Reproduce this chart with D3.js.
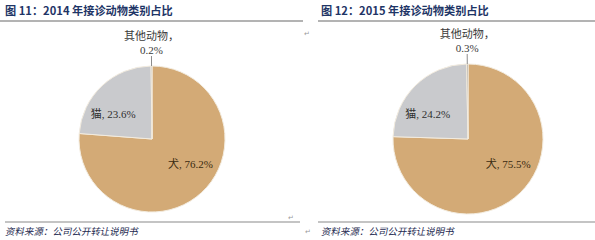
<!DOCTYPE html>
<html>
<head>
<meta charset="utf-8">
<script src="https://cdn.jsdelivr.net/npm/d3@7"></script>
<style>
  body { margin: 0; background: #fff; }
  svg { display: block; }
</style>
</head>
<body>
<div id="vis"></div>
<script>
// data
const categories = ["犬", "猫", "其他动物"];
const share2014 = [76.2, 23.6, 0.2];
const share2015 = [75.5, 24.2, 0.3];
const titles = ["图 11：2014 年接诊动物类别占比", "图 12：2015 年接诊动物类别占比"];
const source = "资料来源：公司公开转让说明书";

const width = 595, height = 240;
const colors = d3.scaleOrdinal().domain(categories).range(["#d3aa76", "#c9cacd", "#8e8e8e"]);

const svg = d3.select("#vis").append("svg")
    .attr("width", width)
    .attr("height", height);

const panels = [
  { title: titles[0], values: share2014, x0: 0, x1: 303, tx: 5, cx: 152, r: 73 },
  { title: titles[1], values: share2015, x0: 318, x1: 595, tx: 321, cx: 468, r: 75 }
];
const cy = 139;

const pie = d3.pie().sort(null).value((d) => d.v);
//labels sit a little counter-clockwise of the slice middle, like excel best fit
const labelShift = -0.245;

panels.forEach((p) => {
  const g = svg.append("g");

  //title + rule
  g.append("text")
      .attr("x", p.tx)
      .attr("y", 15)
      .attr("font-family", "'Noto Sans CJK SC', 'DejaVu Sans', sans-serif")
      .attr("font-size", 11.2)
      .attr("font-weight", "bold")
      .attr("fill", "#1e3566")
      .text(p.title);
  g.append("line")
      .attr("x1", p.x0).attr("x2", p.x1)
      .attr("y1", 21).attr("y2", 21)
      .attr("stroke", "#9a9a9a")
      .attr("stroke-width", 1.6);

  //bottom rule + source
  g.append("line")
      .attr("x1", p.x0 === 0 ? 5 : p.x0).attr("x2", p.x1 === 303 ? 300 : p.x1)
      .attr("y1", 222).attr("y2", 222)
      .attr("stroke", "#8a8a8a")
      .attr("stroke-width", 1.2);
  g.append("text")
      .attr("x", p.tx)
      .attr("y", 235)
      .attr("font-family", "'Noto Sans CJK SC', sans-serif")
      .attr("font-size", 9.5)
      .attr("transform", "skewX(-12) translate(" + (235 * Math.tan(12 * Math.PI / 180)) + ",0)")
      .attr("fill", "#1e2a50")
      .text(source);

  const data = categories.map((c, i) => ({ c: c, v: p.values[i] }));
  const arcs = pie(data);
  const arc = d3.arc().innerRadius(0).outerRadius(p.r);
  const labelArc = d3.arc().innerRadius(p.r * 0.63).outerRadius(p.r * 0.63);

  const pg = g.append("g").attr("transform", "translate(" + p.cx + "," + cy + ")");

  pg.selectAll("path")
      .data(arcs)
      .enter()
      .append("path")
      .attr("d", arc)
      .attr("fill", (d) => colors(d.data.c))
      .attr("stroke", "#f3ecdf")
      .attr("stroke-width", 1);

  //inside labels for the two big slices
  pg.selectAll(".inlabel")
      .data(arcs.filter((d) => d.data.v > 5))
      .enter()
      .append("text")
      .attr("class", "inlabel")
      .attr("transform", (d) => {
        const c = labelArc.centroid({ startAngle: d.startAngle + labelShift, endAngle: d.endAngle + labelShift });
        return "translate(" + c[0] + "," + c[1] + ")";
      })
      .attr("text-anchor", "middle")
      .attr("dy", "0.35em")
      .attr("font-family", "'Liberation Serif', 'Noto Sans CJK SC', serif")
      .attr("font-size", 11)
      .attr("fill", (d) => d.data.c === "犬" ? "#3a2a10" : "#2f2f2f")
      .text((d) => d.data.c + ", " + d.data.v.toFixed(1) + "%");

  //small slice: leader line up to an outside label
  const small = arcs.filter((d) => d.data.v <= 5);
  small.forEach((d) => {
    const a = (d.startAngle + d.endAngle) / 2;
    const x0 = Math.sin(a) * p.r, y0 = -Math.cos(a) * p.r;
    const x1 = Math.sin(a) * (p.r + 10), y1 = -Math.cos(a) * (p.r + 10);
    pg.append("line")
        .attr("x1", x0).attr("y1", y0)
        .attr("x2", x1).attr("y2", y1)
        .attr("stroke", "#8c8c8c")
        .attr("stroke-width", 1);
    const t = pg.append("text")
        .attr("text-anchor", "middle")
        .attr("font-family", "'Liberation Serif', 'Noto Sans CJK SC', serif")
        .attr("font-size", 11)
        .attr("fill", "#3a3a3a");
    t.append("tspan").attr("x", x1).attr("y", y1 - 16).text(d.data.c + "，");
    t.append("tspan").attr("x", x1).attr("y", y1 - 2).text(d.data.v.toFixed(1) + "%");
  });
});

//paragraph marks from the source document
const marks = [[288, 220], [305, 234], [304, 36]];
svg.selectAll(".pmark")
    .data(marks)
    .enter()
    .append("text")
    .attr("class", "pmark")
    .attr("x", (d) => d[0])
    .attr("y", (d) => d[1])
    .attr("font-size", 7)
    .attr("font-family", "'DejaVu Sans', sans-serif")
    .attr("fill", "#9a9a9a")
    .text("↵");
</script>
</body>
</html>
